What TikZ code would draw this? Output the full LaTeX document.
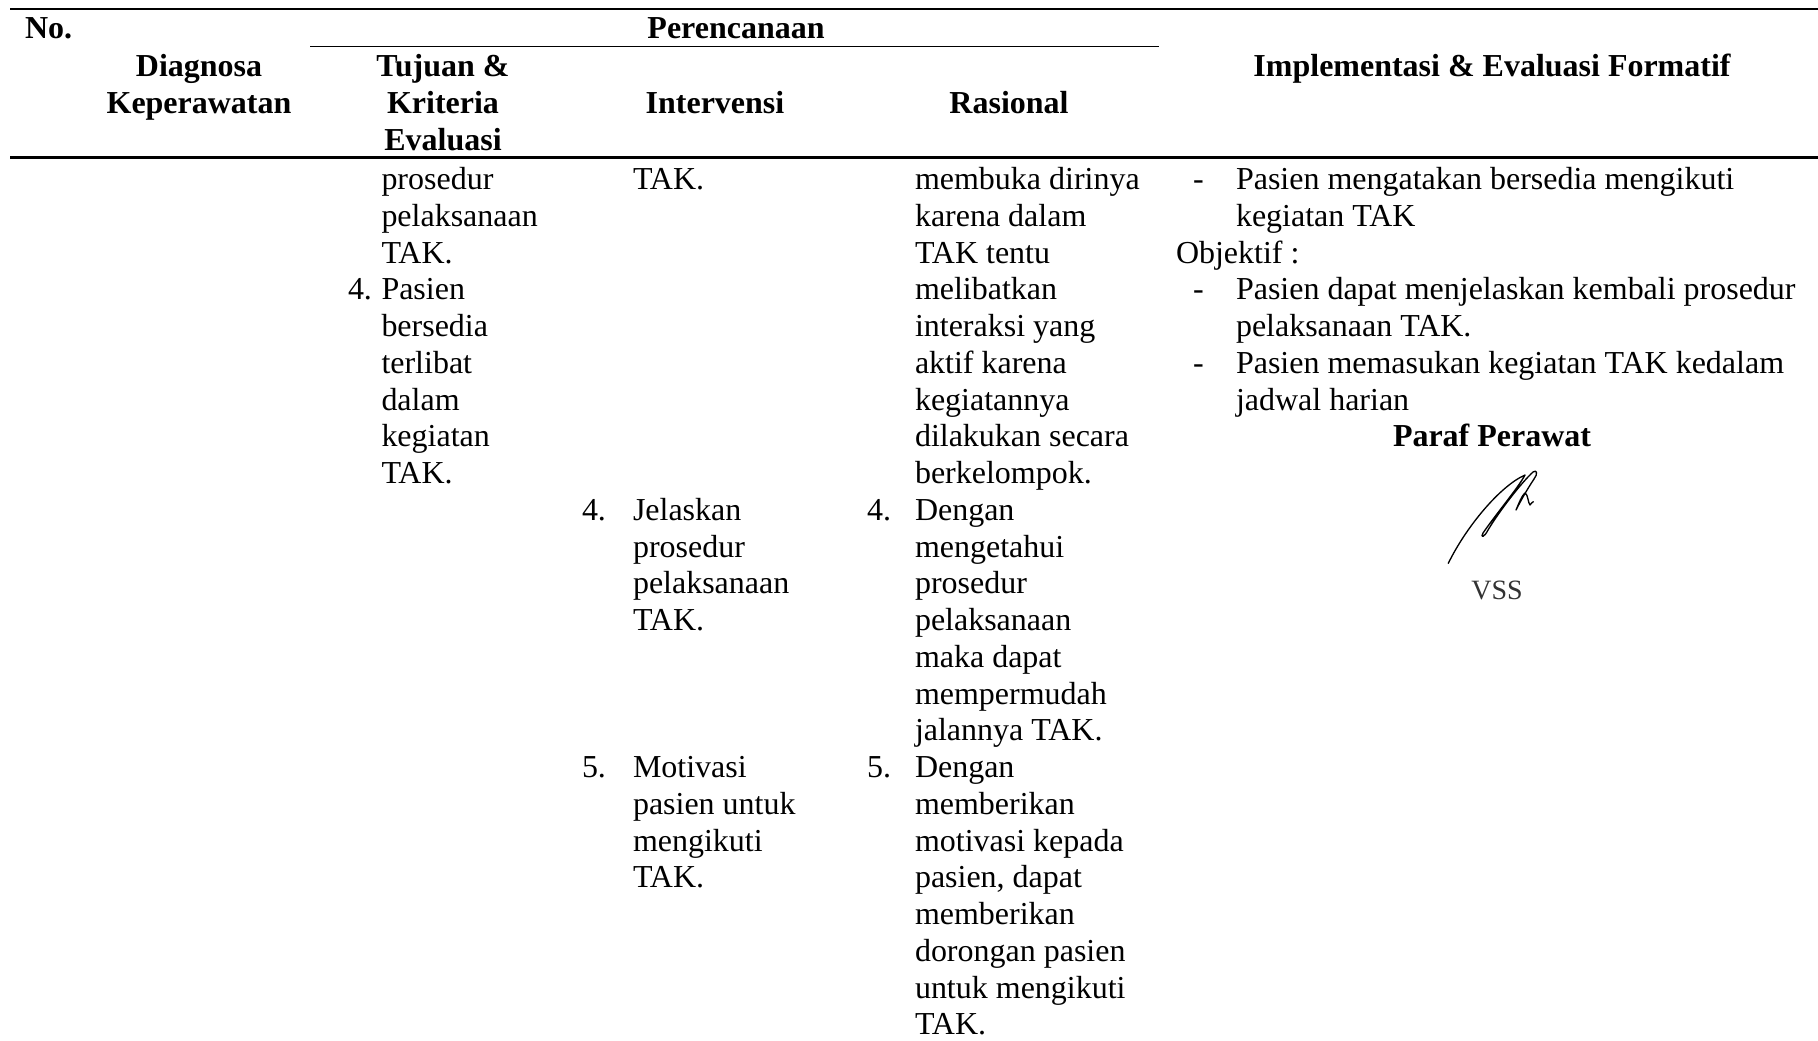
\documentclass[tikz,border=0pt]{standalone}
\usepackage{fontspec}
\setmainfont{Liberation Serif}
\newcommand\colrows[4]{%
  \foreach \t [count=\i from #3] in {#4} {%
    \node[txt, name=#1-\i] at (#2, {189.5+(\i-1)*36.75}) {\t};}}
\newcommand\rowy[1]{{189.5+(#1-1)*36.75}}
\begin{document}
\begin{tikzpicture}[x=0.3752pt, y=-0.3752pt,
  txt/.style={anchor=base west, inner sep=0pt, outer sep=0pt, font=\fontsize{12pt}{13.8pt}\selectfont},
  hd/.style={anchor=base, inner sep=0pt, outer sep=0pt, font=\fontsize{12pt}{13.8pt}\selectfont\bfseries},
  rulethick/.style={line width=1pt},
  rulethin/.style={line width=0.7pt},
  sig/.style={line width=0.5pt, line cap=round, line join=round}]
\useasboundingbox (0,0) rectangle (1818,1040);
% rules
\coordinate (tl) at (10,9);    \coordinate (tr) at (1818,9);
\coordinate (ml) at (310,46.5); \coordinate (mr) at (1159,46.5);
\coordinate (bl) at (10,157.5); \coordinate (br) at (1818,157.5);
\draw[rulethick] (tl) -- (tr);
\draw[rulethin] (ml) -- (mr);
\draw[rulethick] (bl) -- (br);
% header
\node[hd, anchor=base west] (hno) at (25,38) {No.};
\node[hd] (hper) at (736,38) {Perencanaan};
\node[hd] (hdiag1) at (199,76) {Diagnosa};
\node[hd] (hdiag2) at (199,113) {Keperawatan};
\node[hd] (htuj1) at (443,76) {Tujuan \&};
\node[hd] (htuj2) at (443,113) {Kriteria};
\node[hd] (htuj3) at (443,150) {Evaluasi};
\node[hd] (hint) at (715,113) {Intervensi};
\node[hd] (hras) at (1009,113) {Rasional};
\node[hd] (himp) at (1492,76) {Implementasi \& Evaluasi Formatif};
% Tujuan column
\colrows{tuja}{381.5}{1}{prosedur,pelaksanaan,TAK.}
\node[txt] (tujn4) at (348,\rowy{4}) {4.};
\colrows{tujb}{381.5}{4}{Pasien,bersedia,terlibat,dalam,kegiatan,TAK.}
% Intervensi column
\colrows{inta}{633}{1}{TAK.}
\node[txt] (intn4) at (582,\rowy{10}) {4.};
\colrows{intb}{633}{10}{Jelaskan,prosedur,pelaksanaan,TAK.}
\node[txt] (intn5) at (582,\rowy{17}) {5.};
\colrows{intc}{633}{17}{Motivasi,pasien untuk,mengikuti,TAK.}
% Rasional column
\colrows{rasa}{915}{1}{membuka dirinya,karena dalam,TAK tentu,melibatkan,interaksi yang,aktif karena,kegiatannya,dilakukan secara,berkelompok.}
\node[txt] (rasn4) at (867,\rowy{10}) {4.};
\colrows{rasb}{915}{10}{Dengan,mengetahui,prosedur,pelaksanaan,maka dapat,mempermudah,jalannya TAK.}
\node[txt] (rasn5) at (867,\rowy{17}) {5.};
\colrows{rasc}{915}{17}{Dengan,memberikan,motivasi kepada,{pasien, dapat},memberikan,dorongan pasien,untuk mengikuti,TAK.}
% Implementasi column
\node[txt] (imd1) at (1193,\rowy{1}) {-};
\colrows{impa}{1236}{1}{Pasien mengatakan bersedia mengikuti,kegiatan TAK}
\node[txt] (imobj) at (1176,\rowy{3}) {Objektif :};
\node[txt] (imd2) at (1193,\rowy{4}) {-};
\colrows{impb}{1236}{4}{Pasien dapat menjelaskan kembali prosedur,pelaksanaan TAK.}
\node[txt] (imd3) at (1193,\rowy{6}) {-};
\colrows{impc}{1236}{6}{Pasien memasukan kegiatan TAK kedalam,jadwal harian}
\node[hd] (paraf) at (1492,\rowy{8}) {Paraf Perawat};
% signature
\draw[sig] (1448.3,563.3) .. controls (1466,527) and (1500,486) .. (1525,475)
  .. controls (1518,488) and (1496,514) .. (1483,533)
  .. controls (1480,538) and (1484,538) .. (1488,530)
  .. controls (1500,510) and (1522,482) .. (1533,472)
  .. controls (1537,469) and (1538,474) .. (1534,479)
  .. controls (1528,488) and (1521,500) .. (1516,510)
  .. controls (1519,503) and (1522,495) .. (1525,493)
  .. controls (1528,494) and (1528,503) .. (1530,505)
  .. controls (1531,504) and (1532,502) .. (1533.3,501.7);
\node[anchor=base, inner sep=0pt, text=black!80, font=\fontsize{10.5pt}{12pt}\selectfont] (vss) at (1497,599) {VSS};
\end{tikzpicture}
\end{document}
